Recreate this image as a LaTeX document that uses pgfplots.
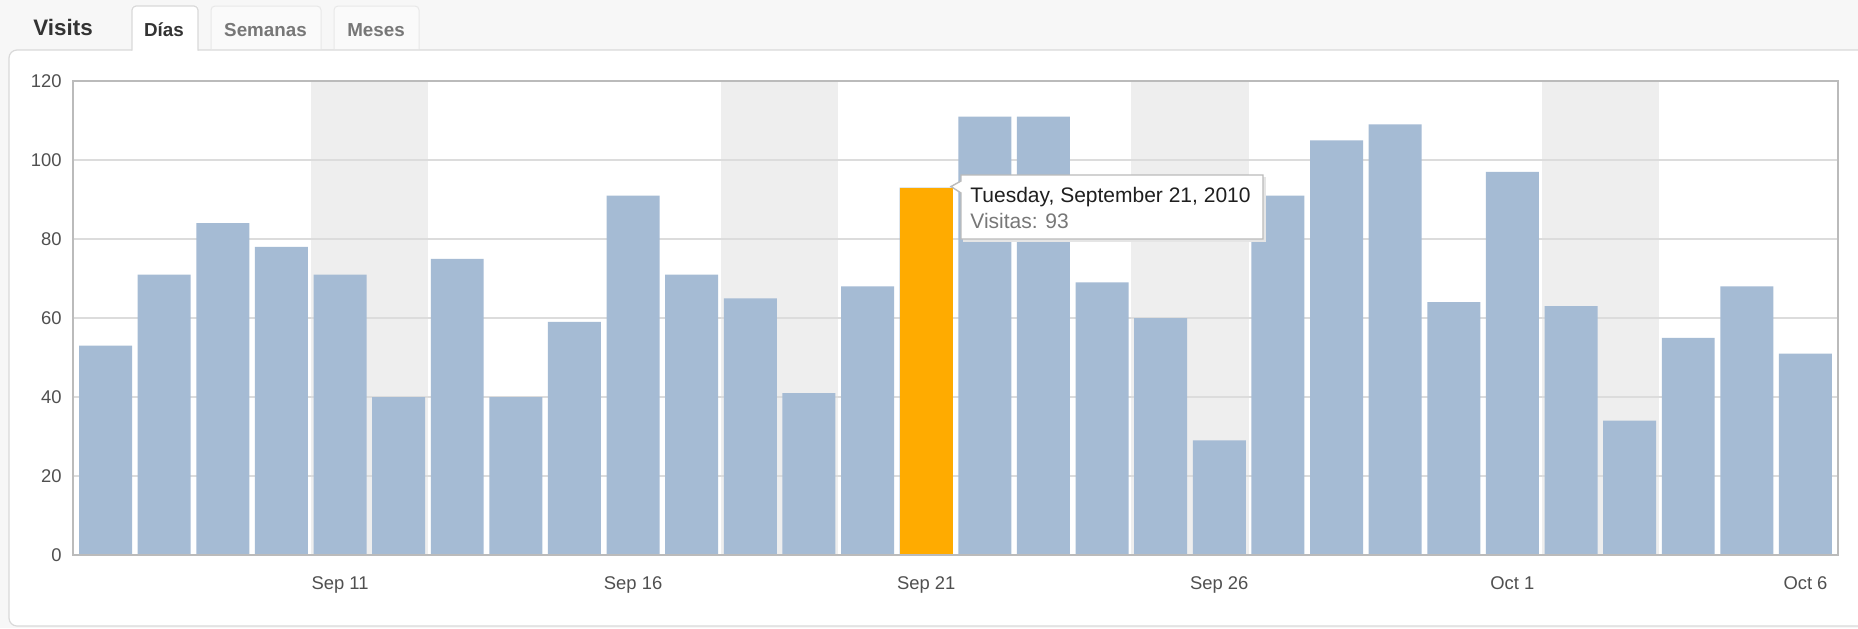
\documentclass[border=0pt]{standalone}
\usepackage{pgfplots}
\usepackage{pgfplotstable}
\pgfplotsset{compat=1.18}
\usepackage{fontspec}
\setmainfont{Liberation Sans}
\definecolor{bgtop}{HTML}{F7F7F7}
\definecolor{panelborder}{HTML}{D9D9D9}
\definecolor{barblue}{HTML}{A5BBD4}
\definecolor{barorange}{HTML}{FFAB00}
\definecolor{weekend}{HTML}{EEEEEE}
\definecolor{gridc}{HTML}{DCDCDC}
\definecolor{axisc}{HTML}{BBBBBB}
\definecolor{ticktext}{HTML}{505050}
\definecolor{tabtext}{HTML}{333333}
\definecolor{tabgray}{HTML}{777777}

\pgfplotstableread{
day visits
1 53
2 71
3 84
4 78
5 71
6 40
7 75
8 40
9 59
10 91
11 71
12 65
13 41
14 68
15 93
16 111
17 111
18 69
19 60
20 29
21 91
22 105
23 109
24 64
25 97
26 63
27 34
28 55
29 68
30 51
}\visitsdata

\pgfplotstableread{
day visits
15 93
}\selecteddata

\begin{document}
\begin{tikzpicture}
\begin{scope}[x=0.5pt,y=-0.5pt]
  % page background (defines the picture size)
  \fill[bgtop] (0,0) rectangle (1858,628);
  % panel
  \filldraw[overlay, fill=white, draw=panelborder, line width=0.6pt, rounded corners=4pt] (9,50) rectangle (1900,626);
  % inactive tabs
  \filldraw[fill=white!40!bgtop, draw=panelborder!60, line width=0.5pt, rounded corners=2pt] (211,49) -- (211,6) -- (321,6) -- (321,49);
  \filldraw[fill=white!40!bgtop, draw=panelborder!60, line width=0.5pt, rounded corners=2pt] (334,49) -- (334,6) -- (419,6) -- (419,49);
  % active tab
  \fill[white] (132,6) rectangle (198,51.5);
  \draw[panelborder, line width=0.6pt, rounded corners=2pt] (132,50.5) -- (132,6) -- (198,6) -- (198,50.5);
  % tab texts
  \node[anchor=base west, inner sep=0pt, text=tabtext, font=\fontsize{11.2pt}{13pt}\selectfont\bfseries] at (33,35) {Visits};
  \node[anchor=base, inner sep=0pt, text=tabtext, font=\fontsize{9.4pt}{11pt}\selectfont\bfseries] at (164,36) {Días};
  \node[anchor=base, inner sep=0pt, text=tabgray, font=\fontsize{9.4pt}{11pt}\selectfont\bfseries] at (265.5,36) {Semanas};
  \node[anchor=base, inner sep=0pt, text=tabgray, font=\fontsize{9.4pt}{11pt}\selectfont\bfseries] at (376,36) {Meses};
\end{scope}

\begin{axis}[
  at={(36.5pt,-277.5pt)}, anchor=south west,
  scale only axis,
  width=882.5pt, height=237pt,
  xmin=0.445, xmax=30.555, ymin=0, ymax=120,
  ybar, bar width=0.904,
  xtick={5,10,15,20,25,30},
  xticklabels={Sep 11,Sep 16,Sep 21,Sep 26,Oct 1,Oct 6},
  ytick={0,20,40,60,80,100,120},
  major tick length=0pt,
  axis line style={draw=none},
  tick label style={font=\fontsize{9.2pt}{11pt}\selectfont, text=ticktext},
  /pgf/number format/assume math mode=true,
  xticklabel style={anchor=base, inner sep=0pt, yshift=-17.25pt},
  yticklabel style={anchor=east, inner sep=0pt, xshift=-5.5pt},
  clip=false,
]
  % weekend bands
  \fill[weekend] (axis cs:4.5,0) rectangle (axis cs:6.5,120);
  \fill[weekend] (axis cs:11.5,0) rectangle (axis cs:13.5,120);
  \fill[weekend] (axis cs:18.5,0) rectangle (axis cs:20.5,120);
  \fill[weekend] (axis cs:25.5,0) rectangle (axis cs:27.5,120);
  % horizontal grid lines
  \draw[gridc, line width=0.75pt] (axis cs:0.445,20) -- (axis cs:30.555,20);
  \draw[gridc, line width=0.75pt] (axis cs:0.445,40) -- (axis cs:30.555,40);
  \draw[gridc, line width=0.75pt] (axis cs:0.445,60) -- (axis cs:30.555,60);
  \draw[gridc, line width=0.75pt] (axis cs:0.445,80) -- (axis cs:30.555,80);
  \draw[gridc, line width=0.75pt] (axis cs:0.445,100) -- (axis cs:30.555,100);
  % bars
  \addplot[fill=barblue, draw=none, bar shift=0pt] table[x=day, y=visits] {\visitsdata};
  \addplot[fill=barorange, draw=none, bar shift=0pt] table[x=day, y=visits] {\selecteddata};
  % frame
  \draw[axisc, line width=0.9pt] (axis cs:0.445,0) rectangle (axis cs:30.555,120);
\end{axis}

\begin{scope}[x=0.5pt,y=-0.5pt]
  % tooltip
  \fill[black!10] (963,177) rectangle (1265.5,241.5);
  \filldraw[fill=white, draw=axisc, line width=0.7pt] (961,175) -- (1263,175) -- (1263,239) -- (961,239) -- (961,193) -- (951,186.5) -- (961,181) -- cycle;
  \node[anchor=base west, inner sep=0pt, text=black!88, font=\fontsize{10.5pt}{12pt}\selectfont] at (970,202) {Tuesday, September 21, 2010};
  \node[anchor=base west, inner sep=0pt, text=tabgray, font=\fontsize{10.5pt}{12pt}\selectfont] at (970,228) {Visitas: 93};
\end{scope}
\end{tikzpicture}
\end{document}
